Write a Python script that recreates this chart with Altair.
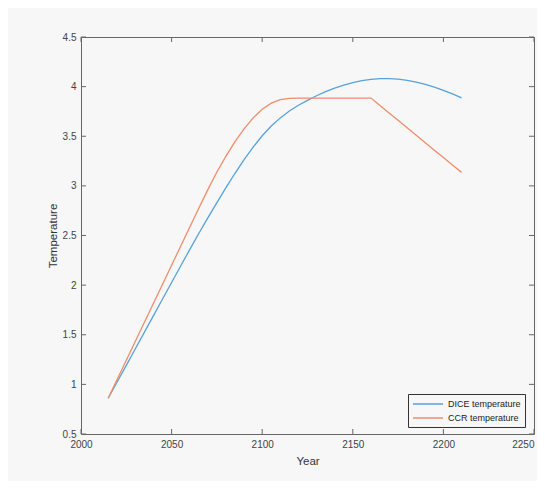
import altair as alt
import pandas as pd

years = list(range(2015, 2211, 5))
dice = [0.860, 1.026, 1.192, 1.359, 1.526, 1.693, 1.860, 2.027, 2.193, 2.358,
        2.520, 2.678, 2.832, 2.982, 3.127, 3.265, 3.390, 3.505, 3.603, 3.685,
        3.754, 3.812, 3.862, 3.908, 3.949, 3.985, 4.016, 4.041, 4.060, 4.073,
        4.080, 4.081, 4.075, 4.063, 4.045, 4.022, 3.994, 3.962, 3.926, 3.886]
ccr = [0.860, 1.052, 1.243, 1.435, 1.626, 1.818, 2.009, 2.201, 2.392, 2.584,
       2.775, 2.962, 3.140, 3.300, 3.445, 3.575, 3.685, 3.772, 3.833, 3.868,
       3.882, 3.885, 3.885, 3.885, 3.885, 3.885, 3.885, 3.885, 3.885, 3.885,
       3.810, 3.735, 3.660, 3.585, 3.510, 3.435, 3.360, 3.285, 3.210, 3.136]
series_names = ["DICE temperature", "CCR temperature"]
series_colors = ["#57a1dc", "#ee8d6b"]
x_ticks = [2000, 2050, 2100, 2150, 2200, 2250]
y_ticks = [0.5, 1, 1.5, 2, 2.5, 3, 3.5, 4, 4.5]

W, H = 453, 397

rows = []
for name, vals in zip(series_names, [dice, ccr]):
    for yr, v in zip(years, vals):
        rows.append({"Year": yr, "Temperature": v, "series": name})
df = pd.DataFrame(rows)
xt = pd.DataFrame({"t": x_ticks})
yt = pd.DataFrame({"t": y_ticks})

xscale = alt.Scale(domain=[2000, 2250], nice=False, zero=False)
yscale = alt.Scale(domain=[0.5, 4.5], nice=False, zero=False)

lines = alt.Chart(df).mark_line(strokeWidth=1.3).encode(
    x=alt.X("Year:Q", scale=xscale,
            axis=alt.Axis(values=x_ticks, format="d", ticks=False, domain=False,
                          grid=False, labelPadding=5, titlePadding=6, title="Year",
                          labelFlush=False,
                          labelAlign=alt.ExprRef("datum.value == 2250 ? 'right' : 'center'"))),
    y=alt.Y("Temperature:Q", scale=yscale,
            axis=alt.Axis(values=y_ticks, format="~g", ticks=False, domain=False,
                          grid=False, labelPadding=5, titlePadding=4, title="Temperature",
                          labelFlush=False)),
    color=alt.Color("series:N", sort=series_names,
                    scale=alt.Scale(domain=series_names, range=series_colors),
                    legend=alt.Legend(title=None, orient="none", legendX=327, legendY=357,
                                      symbolType="M-1,0L5,0", symbolSize=100,
                                      symbolStrokeWidth=1.5, labelFontSize=9,
                                      labelColor="#222", strokeColor="#333",
                                      fillColor="#f7f7f7", padding=4, rowPadding=3,
                                      labelOffset=24)),
)

tick_len = 5
xb = alt.Chart(xt).mark_rule(color="#666").encode(
    x=alt.X("t:Q", scale=xscale), y=alt.value(H), y2=alt.value(H - tick_len))
xtp = alt.Chart(xt).mark_rule(color="#666").encode(
    x=alt.X("t:Q", scale=xscale), y=alt.value(0), y2=alt.value(tick_len))
yl = alt.Chart(yt).mark_rule(color="#666").encode(
    y=alt.Y("t:Q", scale=yscale), x=alt.value(0), x2=alt.value(tick_len))
yr_ = alt.Chart(yt).mark_rule(color="#666").encode(
    y=alt.Y("t:Q", scale=yscale), x=alt.value(W), x2=alt.value(W - tick_len))

chart = alt.layer(xb, xtp, yl, yr_, lines).properties(
    width=W, height=H,
    autosize=alt.AutoSizeParams(type="none"),
    padding={"left": 73, "top": 29, "right": 3, "bottom": 47},
    background="#f7f7f7",
).configure_view(
    stroke="#666", strokeWidth=1, fill="#f7f7f7"
).configure_axis(
    labelFont="Liberation Sans", titleFont="Liberation Sans",
    labelFontSize=10, titleFontSize=11.5, labelColor="#444", titleColor="#333",
    titleFontWeight="normal",
).configure_legend(
    labelFont="Liberation Sans"
)

chart.save("out.html", embed_options={"renderer": "svg", "actions": False})
